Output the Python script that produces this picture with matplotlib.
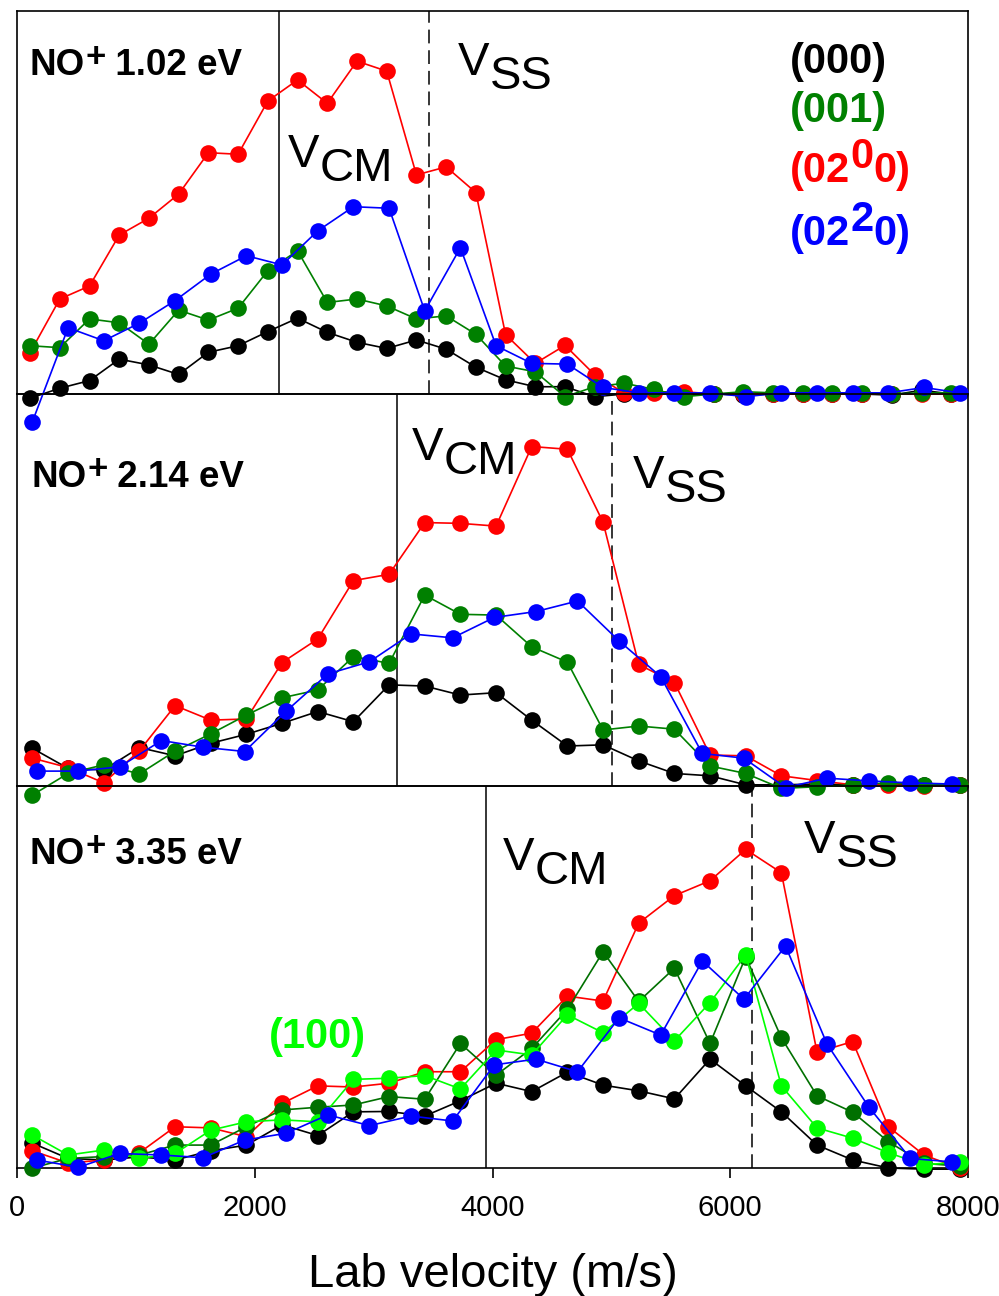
import matplotlib
matplotlib.use("Agg")
import matplotlib.pyplot as plt
from matplotlib import font_manager

plt.rcParams["font.family"] = ["Liberation Sans", "DejaVu Sans"]

installed = {f.name for f in font_manager.fontManager.ttflist}
TICK_FONT = ("Liberation Sans Narrow" if "Liberation Sans Narrow" in installed
             else "Liberation Sans")

# velocity grids (m/s) used by the different traces
grid_a = [110, 360, 610, 860, 1110, 1360, 1610, 1860, 2110, 2360, 2610, 2860,
          3110, 3360, 3610, 3860, 4110, 4360, 4610, 4860, 5110, 5360, 5610,
          5860, 6110, 6360, 6610, 6860, 7110, 7360, 7610, 7860]
grid_b = [130, 430, 730, 1030, 1330, 1630, 1930, 2230, 2530, 2830, 3130, 3430,
          3730, 4030, 4330, 4630, 4930, 5230, 5530, 5830, 6130, 6430, 6730,
          7030, 7330, 7630, 7930]
grid_c = [165, 515, 865, 1215, 1565, 1915, 2265, 2615, 2965, 3315, 3665, 4015,
          4365, 4715, 5065, 5415, 5765, 6115, 6465, 6815, 7165, 7515, 7865]

# NO+ 1.02 eV
top_000 = [-1.1, 1.5, 3.5, 9.1, 7.6, 5.1, 10.9, 12.6, 16.3, 19.8, 16.1, 13.5,
           11.9, 14.1, 11.7, 7.0, 3.7, 1.9, 1.9, -0.7, 0.0, 0.8, 0.0, 0.0,
           -0.3, 0.0, 0.0, 0.0, 0.0, -0.3, 1.0, 0.0]
top_001 = [12.6, 12.1, 19.6, 18.6, 13.0, 21.9, 19.3, 22.4, 32.2, 37.4, 23.9,
           24.8, 23.0, 19.6, 20.4, 15.6, 7.3, 5.8, -0.7, 1.9, 2.8, 1.2, -0.7,
           0.0, 0.6, 0.3, 0.3, 0.3, 0.3, 0.0, 0.3, 0.3]
top_0200 = [10.8, 24.8, 28.2, 41.5, 45.9, 52.2, 63.0, 62.6, 76.5, 82.0, 75.9,
            86.9, 84.3, 57.2, 59.3, 52.6, 15.5, 8.0, 12.7, 5.0, 0.2, 0.3, 0.6,
            0.0, 0.0, 0.0, 0.0, 0.0, 0.0, 0.0, 0.0, 0.0]
top_0220 = [-7.2, 17.3, 13.9, 18.5, 24.4, 31.3, 36.1, 33.7, 42.6, 48.9, 48.5,
            21.7, 38.2, 12.6, 8.0, 7.8, 1.7, 0.3, 0.3, 0.3, -0.7, 0.3, 0.3,
            0.3, 0.3, 1.7, 0.3]

# NO+ 2.14 eV
mid_000 = [9.6, 4.5, 4.1, 9.8, 7.7, 10.9, 13.2, 16.0, 19.0, 16.4, 25.8, 25.5,
           23.2, 23.8, 16.8, 10.2, 10.5, 6.4, 3.2, 2.6, 0.3, 0.3, 0.5, 0.3,
           0.5, 0.3, 0.3]
mid_001 = [-2.3, 3.2, 5.4, 3.1, 8.9, 13.3, 18.1, 22.5, 24.5, 33.0, 31.3, 48.7,
           43.8, 43.6, 35.5, 31.6, 14.3, 15.3, 14.5, 5.1, 3.2, -0.6, -0.2, 0.3,
           0.8, 0.3, 0.3]
mid_0200 = [7.1, 4.7, 0.8, 9.0, 20.5, 16.8, 17.1, 31.5, 37.5, 52.4, 54.0, 67.2,
            67.0, 66.3, 86.6, 85.9, 67.3, 31.0, 26.4, 7.9, 7.7, 2.6, 1.4, 0.3,
            0.3, 0.0, 0.3]
mid_0220 = [3.8, 3.8, 4.9, 11.6, 9.9, 8.8, 19.1, 28.6, 31.7, 38.8, 37.8, 43.0,
            44.5, 47.2, 37.0, 27.9, 8.3, 7.1, -0.4, 2.0, 1.3, 0.8, 0.5]

# NO+ 3.35 eV
bot_000 = [6.5, 2.5, 2.1, 2.9, 2.1, 4.5, 6.0, 11.3, 8.5, 14.7, 14.8, 13.6,
           17.6, 22.2, 20.0, 25.1, 21.7, 20.2, 18.1, 28.5, 21.5, 14.7, 6.0,
           2.1, 0.0, -0.3, -0.3]
bot_001 = [0.0, 2.5, 3.0, 3.4, 6.0, 6.0, 10.8, 15.2, 15.9, 16.5, 18.7, 18.0,
           32.6, 24.3, 31.3, 41.5, 56.6, 43.6, 52.3, 32.6, 55.3, 34.1, 18.9,
           14.6, 6.9, 1.2, 0.5]
bot_0200 = [4.5, 1.3, 2.1, 4.0, 10.8, 10.5, 8.2, 16.9, 21.5, 21.2, 22.2, 25.2,
            25.2, 33.6, 35.3, 45.0, 43.7, 64.1, 71.3, 75.2, 83.4, 77.3, 30.3,
            33.1, 10.8, 3.4, -0.1]
bot_0220 = [2.1, 0.2, 3.8, 3.4, 2.7, 7.3, 9.1, 13.9, 11.1, 13.6, 12.3, 27.0,
            28.5, 25.2, 39.3, 34.8, 54.2, 44.2, 58.1, 32.4, 16.0, 2.5, 1.6]
bot_100 = [8.6, 3.4, 4.7, 2.5, 3.8, 9.9, 12.1, 12.6, 12.1, 23.2, 23.5, 24.2,
           20.7, 30.9, 29.6, 40.1, 35.4, 43.1, 33.3, 43.3, 55.8, 21.5, 10.5,
           7.8, 4.0, 0.8, 1.6]

# centre-of-mass and specular-scattering velocities per panel
v_cm = [2207, 3194, 3945]
v_ss = [3466, 5009, 6186]
energies = ["1.02", "2.14", "3.35"]

BLACK, GREEN, RED, BLUE = "#000000", "#008000", "#ff0000", "#0000ff"
DKGREEN, LTGREEN = "#007000", "#00ff00"


def text_runs(ax, x, y, runs, **kw):
    """Draw text pieces one after another, each with its own vertical shift (pt)."""
    fig = ax.figure
    renderer = fig.canvas.get_renderer()
    dx = 0.0
    for s, dy, props in runs:
        p = dict(kw)
        p.update(props)
        t = ax.annotate(s, (x, y), xytext=(dx, dy), textcoords="offset points",
                        ha="left", va="baseline", annotation_clip=False, **p)
        dx += t.get_window_extent(renderer).width * 72 / fig.dpi


def trace(ax, x, y, color, z):
    ax.plot(x, y, "-o", color=color, lw=1.2, ms=12, mec=color, mew=0,
            clip_on=False, zorder=z)


fig = plt.figure(figsize=(9.99, 12.96), dpi=100)
left, width = 17 / 999, 951 / 999
ax1 = fig.add_axes([left, 1 - 394 / 1296, width, 383 / 1296])
ax2 = fig.add_axes([left, 1 - 786 / 1296, width, 392 / 1296])
ax3 = fig.add_axes([left, 1 - 1168 / 1296, width, 382 / 1296])
axes = [ax1, ax2, ax3]

for ax in axes:
    ax.set_xlim(0, 8000)
    ax.set_ylim(0, 100)
    ax.patch.set_visible(False)
    for sp in ax.spines.values():
        sp.set_linewidth(1.2)
    ax.set_yticks([])

ax1.set_xticks([])
ax2.set_xticks([])
ax3.set_xticks([0, 2000, 4000, 6000, 8000])
ax3.tick_params(axis="x", direction="out", length=7, width=1.2, labelsize=21,
                pad=12)
for lbl in ax3.get_xticklabels():
    lbl.set_family([TICK_FONT, "DejaVu Sans"])

trace(ax1, grid_a, top_000, BLACK, 3)
trace(ax1, grid_a, top_0200, RED, 4)
trace(ax1, grid_a, top_001, GREEN, 5)
trace(ax1, grid_b, top_0220, BLUE, 6)

trace(ax2, grid_b, mid_000, BLACK, 3)
trace(ax2, grid_b, mid_0200, RED, 4)
trace(ax2, grid_b, mid_001, GREEN, 5)
trace(ax2, grid_c, mid_0220, BLUE, 6)

trace(ax3, grid_b, bot_000, BLACK, 3)
trace(ax3, grid_b, bot_0200, RED, 4)
trace(ax3, grid_b, bot_001, DKGREEN, 5)
trace(ax3, grid_b, bot_100, LTGREEN, 6)
trace(ax3, grid_c, bot_0220, BLUE, 7)

for ax, cm, ss in zip(axes, v_cm, v_ss):
    ax.axvline(cm, color="k", lw=1.1, zorder=1)
    ax.axvline(ss, color="k", lw=1.1, dashes=(9, 4.5), zorder=1)

# panel titles
title_pos = [(109, 83.3), (126, 76.3), (109, 79.6)]
for ax, (tx, ty), e in zip(axes, title_pos, energies):
    text_runs(ax, tx, ty, [("NO", 0, {}), ("+", 6, {"fontsize": 25}),
                           (" %s eV" % e, 0, {})],
              fontsize=26.5, fontweight="bold", color="k")

# V_CM / V_SS labels
cm_pos = [(2280, 59.3), (3323, 83.2), (4088, 78.0)]
ss_pos = [(3710, 83.3), (5182, 76.0), (6620, 82.5)]
for ax, (cx, cy), (sx, sy) in zip(axes, cm_pos, ss_pos):
    text_runs(ax, cx, cy, [("V", 0, {}), ("CM", -10, {})], fontsize=34)
    text_runs(ax, sx, sy, [("V", 0, {}), ("SS", -10, {})], fontsize=34)

# state labels
lab = dict(fontsize=30, fontweight="bold")
text_runs(ax1, 6503, 83.8, [("(000)", 0, {})], color=BLACK, **lab)
text_runs(ax1, 6503, 71.0, [("(001)", 0, {})], color=GREEN, **lab)
text_runs(ax1, 6503, 55.4, [("(02", 0, {}), ("0", 10, {}), ("0)", 0, {})],
          color=RED, **lab)
text_runs(ax1, 6503, 38.9, [("(02", 0, {}), ("2", 10, {}), ("0)", 0, {})],
          color=BLUE, **lab)
text_runs(ax3, 2120, 31.4, [("(100)", 0, {})], color=LTGREEN, **lab)

ax3.set_xlabel("Lab velocity (m/s)", fontsize=34)
ax3.xaxis.set_label_coords(0.5, (1168 - 1287) / 382)
ax3.xaxis.label.set_va("baseline")

fig.savefig("out.png", dpi=100)
